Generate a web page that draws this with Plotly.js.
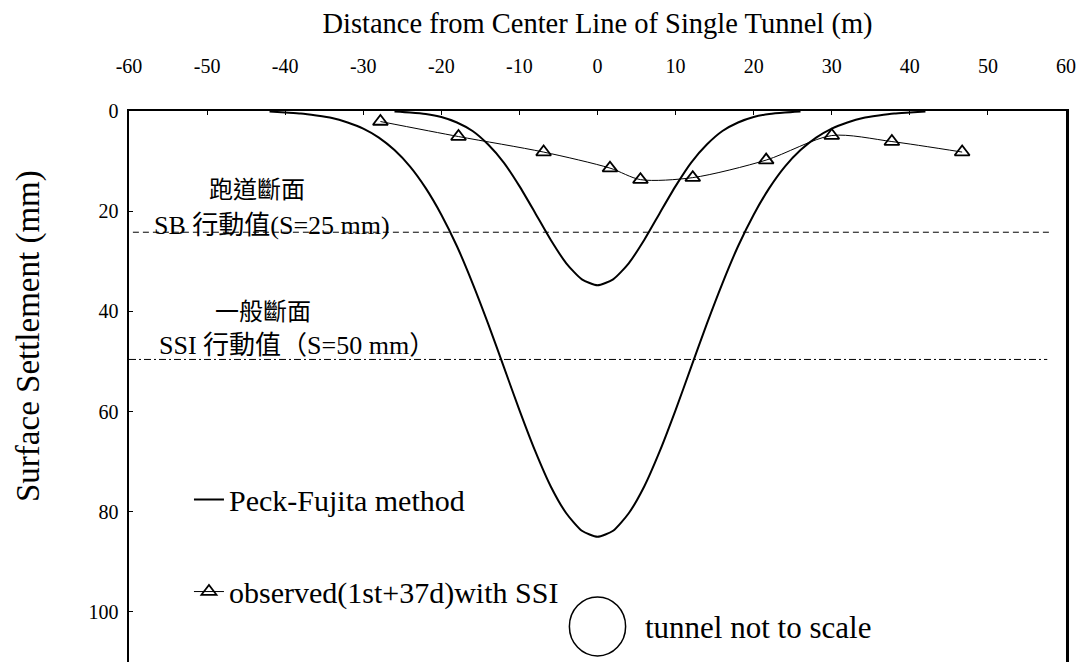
<!DOCTYPE html>
<html>
<head>
<meta charset="utf-8">
<script src="https://cdn.plot.ly/plotly-3.0.1.min.js"></script>
<style>
  html, body { margin: 0; padding: 0; background: #fff; overflow: hidden; }
  #chart { width: 1082px; height: 662px; }
</style>
</head>
<body>
<div id="chart"></div>
<script>
// ---- data ----
const xTickVals = [-60, -50, -40, -30, -20, -10, 0, 10, 20, 30, 40, 50, 60];
const xTickText = ['-60', '-50', '-40', '-30', '-20', '-10', '0', '10', '20', '30', '40', '50', '60'];
const yTickVals = [0, 20, 40, 60, 80, 100];
const yTickText = ['0', '20', '40', '60', '80', '100'];

// Peck-Fujita method: narrow trough (S max ~35 mm)
const peckNarrowX = [-26,-24,-22,-20,-18,-16,-14,-12,-10,-8,-6,-4,-2,0,2,4,6,8,10,12,14,16,18,20,22,24,26];
const peckNarrowY = [0.1,0.3,0.6,1.2,2.3,4.0,6.7,10.3,15.0,20.3,25.7,30.4,33.6,34.8,33.6,30.4,25.7,20.3,15.0,10.3,6.7,4.0,2.3,1.2,0.6,0.3,0.1];

// Peck-Fujita method: wide trough (S max ~85 mm)
const peckWideX = [-42,-40,-38,-36,-34,-32,-30,-28,-26,-24,-22,-20,-18,-16,-14,-12,-10,-8,-6,-4,-2,0,2,4,6,8,10,12,14,16,18,20,22,24,26,28,30,32,34,36,38,40,42];
const peckWideY = [0.1,0.3,0.5,0.9,1.4,2.3,3.5,5.3,7.8,11.1,15.4,20.7,27.0,34.4,42.5,51.1,59.7,67.8,74.9,80.3,83.8,85.0,83.8,80.3,74.9,67.8,59.7,51.1,42.5,34.4,27.0,20.7,15.4,11.1,7.8,5.3,3.5,2.3,1.4,0.9,0.5,0.3,0.1];

// observed (1st+37d) with SSI
const obsX = [-27.8, -17.8, -6.9, 1.6, 5.5, 12.2, 21.6, 30.0, 37.7, 46.7];
const obsY = [2.1, 5.1, 8.2, 11.4, 13.7, 13.3, 9.8, 4.9, 6.1, 8.2];

// action limits
const sbLimitX = [-59.5, 58];
const sbLimitY = [24.2, 24.2];
const ssiLimitX = [-60, 57.6];
const ssiLimitY = [49.6, 49.6];

// tunnel symbol (not to scale)
const tunnelX = [-3.6, 3.6];
const tunnelY = [97.0, 108.8];

const serif = 'Liberation Serif';
const mixed = 'Liberation Serif, Noto Sans CJK TC';

const traces = [
  {
    x: peckNarrowX, y: peckNarrowY, type: 'scatter', mode: 'lines',
    name: 'Peck-Fujita method', legendgroup: 'peck',
    line: { color: '#000', width: 2, shape: 'spline', smoothing: 0.6 }
  },
  {
    x: peckWideX, y: peckWideY, type: 'scatter', mode: 'lines',
    name: 'Peck-Fujita method', legendgroup: 'peck', showlegend: false,
    line: { color: '#000', width: 2, shape: 'spline', smoothing: 0.6 }
  },
  {
    x: obsX, y: obsY, type: 'scatter', mode: 'lines+markers',
    name: 'observed(1st+37d)with SSI', legendgroup: 'obs',
    line: { color: '#000', width: 1, shape: 'spline', smoothing: 0.8 },
    marker: { symbol: 'triangle-up-open', size: 13, color: '#000', line: { width: 1.8, color: '#000' } }
  },
  {
    x: sbLimitX, y: sbLimitY, type: 'scatter', mode: 'lines', showlegend: false, hoverinfo: 'skip',
    line: { color: '#000', width: 1, dash: '6px,4px' }
  },
  {
    x: ssiLimitX, y: ssiLimitY, type: 'scatter', mode: 'lines', showlegend: false, hoverinfo: 'skip',
    line: { color: '#000', width: 1, dash: '7px,3px,2px,3px' }
  }
];

const layout = {
  width: 1082, height: 662,
  margin: { l: 129, r: 16, t: 111, b: 0 },
  paper_bgcolor: '#fff', plot_bgcolor: '#fff',
  font: { family: serif, color: '#000' },
  showlegend: true,
  legend: {
    x: 0.064, y: 0.342, xanchor: 'left', yanchor: 'top',
    bgcolor: 'rgba(0,0,0,0)', tracegroupgap: 50,
    font: { family: serif, size: 30, color: '#000' }
  },
  xaxis: {
    side: 'top', range: [-60, 60], tickmode: 'array', tickvals: xTickVals, ticktext: xTickText,
    ticks: 'inside', ticklen: 4, tickcolor: '#000', tickwidth: 1,
    showline: true, linecolor: '#000', linewidth: 2, mirror: false,
    showgrid: false, zeroline: false,
    ticklabelstandoff: 28,
    tickfont: { family: serif, size: 20, color: '#000' },
    title: { text: 'Distance from Center Line of Single Tunnel (m)', standoff: 13,
             font: { family: serif, size: 28.5, color: '#000' } }
  },
  yaxis: {
    range: [110, 0], tickmode: 'array', tickvals: yTickVals, ticktext: yTickText,
    ticks: 'inside', ticklen: 4, tickcolor: '#000', tickwidth: 1,
    showline: true, linecolor: '#000', linewidth: 2.5, mirror: true,
    showgrid: false, zeroline: false,
    ticklabelstandoff: 4,
    tickfont: { family: serif, size: 20, color: '#000' },
    title: { text: '' }
  },
  shapes: [
    { type: 'circle', xref: 'x', yref: 'y', x0: tunnelX[0], x1: tunnelX[1], y0: tunnelY[0], y1: tunnelY[1],
      line: { color: '#000', width: 1.5 }, fillcolor: 'rgba(0,0,0,0)' }
  ],
  annotations: [
    { text: 'Surface Settlement (mm)', xref: 'paper', yref: 'paper', x: (28 - 129) / 937, y: 1 - (336 - 111) / 551,
      xanchor: 'center', yanchor: 'middle', textangle: -90, showarrow: false,
      font: { family: serif, size: 33, color: '#000' } },
    { text: '跑道斷面', xref: 'paper', yref: 'paper', x: (257 - 129) / 937, y: 1 - (190 - 111) / 551,
      xanchor: 'center', yanchor: 'middle', showarrow: false,
      font: { family: mixed, size: 24, color: '#000' } },
    { text: 'SB 行動值(S=25 mm)', xref: 'paper', yref: 'paper', x: (152 - 129) / 937, y: 1 - (225 - 111) / 551,
      xanchor: 'left', yanchor: 'middle', showarrow: false,
      font: { family: mixed, size: 26, color: '#000' } },
    { text: '一般斷面', xref: 'paper', yref: 'paper', x: (263 - 129) / 937, y: 1 - (312 - 111) / 551,
      xanchor: 'center', yanchor: 'middle', showarrow: false,
      font: { family: mixed, size: 24, color: '#000' } },
    { text: 'SSI 行動值（S=50 mm）', xref: 'paper', yref: 'paper', x: (157 - 129) / 937, y: 1 - (345 - 111) / 551,
      xanchor: 'left', yanchor: 'middle', showarrow: false,
      font: { family: mixed, size: 26, color: '#000' } },
    { text: 'tunnel not to scale', xref: 'paper', yref: 'paper', x: (643 - 129) / 937, y: 1 - (627 - 111) / 551,
      xanchor: 'left', yanchor: 'middle', showarrow: false,
      font: { family: serif, size: 31, color: '#000' } }
  ]
};

Plotly.newPlot('chart', traces, layout, { displayModeBar: false, staticPlot: true });
</script>
</body>
</html>
